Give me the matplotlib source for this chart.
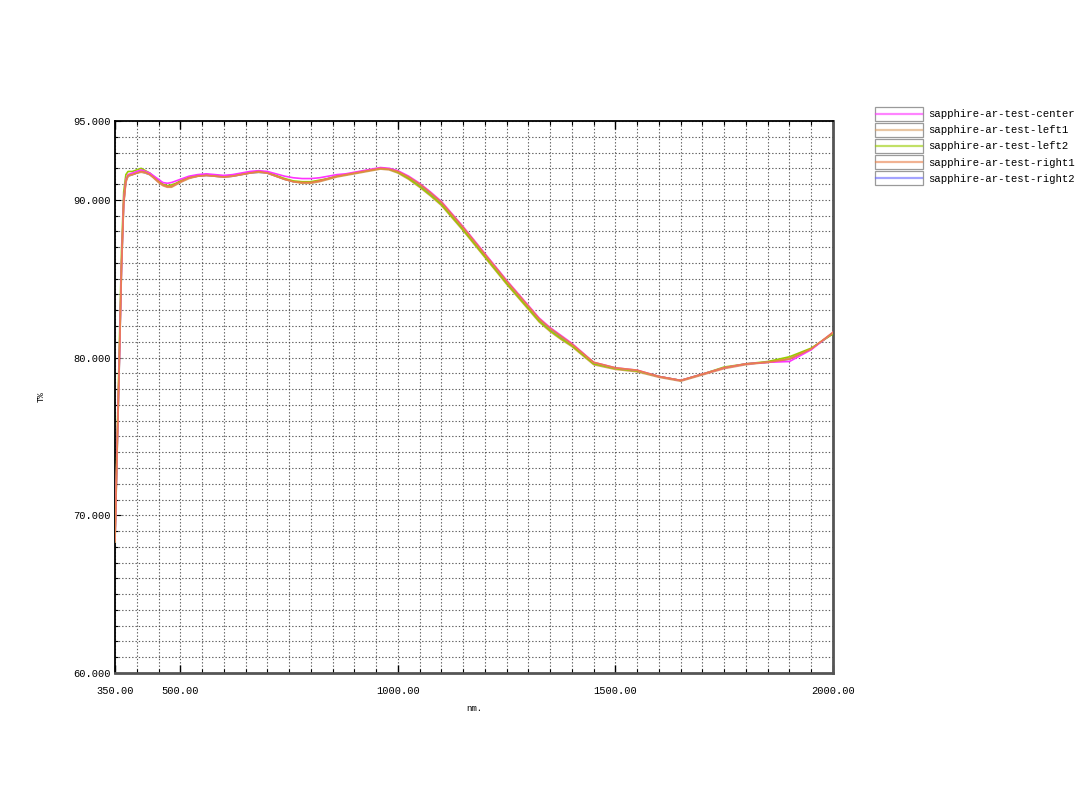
import matplotlib
matplotlib.use("Agg")
import matplotlib.pyplot as plt
from matplotlib.legend_handler import HandlerBase
from matplotlib.patches import Rectangle
from matplotlib.lines import Line2D
from matplotlib.ticker import FixedLocator, MultipleLocator

plt.rcParams['font.family'] = ['Liberation Mono', 'DejaVu Sans Mono']

# wavelength (nm)
wl = [350, 355, 360, 365, 370, 375, 380, 390, 400, 410, 420, 430, 440, 450,
      460, 470, 480, 490, 500, 520, 540, 560, 580, 600, 620, 640, 660, 680,
      700, 720, 740, 760, 780, 800, 820, 840, 860, 880, 900, 920, 940, 960,
      980, 1000, 1025, 1050, 1075, 1100, 1150, 1200, 1250, 1300, 1325, 1350,
      1375, 1400, 1450, 1500, 1550, 1600, 1650, 1700, 1750, 1800, 1850, 1900,
      1950, 2000]

# transmittance T% per sample
center = [68.5, 74.5, 80.0, 86.0, 90.0, 91.3, 91.6, 91.7, 91.8, 91.9, 91.8, 91.7,
          91.5, 91.3, 91.1, 91.05, 91.1, 91.2, 91.3, 91.5, 91.6, 91.65, 91.6,
          91.55, 91.6, 91.7, 91.8, 91.85, 91.8, 91.65, 91.5, 91.4, 91.35, 91.35,
          91.4, 91.5, 91.6, 91.65, 91.75, 91.85, 91.95, 92.05, 92.0, 91.85, 91.5,
          91.05, 90.5, 89.9, 88.3, 86.6, 84.9, 83.3, 82.5, 81.9, 81.4, 80.9,
          79.7, 79.35, 79.2, 78.8, 78.55, 78.95, 79.35, 79.6, 79.7, 79.75, 80.5,
          81.6]
left1 = [68.3, 74.0, 79.6, 85.6, 89.7, 91.1, 91.5, 91.6, 91.7, 91.75, 91.7, 91.6,
         91.35, 91.1, 90.9, 90.8, 90.8, 90.95, 91.1, 91.35, 91.5, 91.55, 91.5,
         91.45, 91.5, 91.6, 91.7, 91.75, 91.7, 91.5, 91.3, 91.15, 91.05, 91.05,
         91.15, 91.3, 91.45, 91.55, 91.65, 91.75, 91.85, 91.95, 91.9, 91.7, 91.3,
         90.8, 90.25, 89.65, 88.05, 86.35, 84.65, 83.05, 82.25, 81.65, 81.15,
         80.7, 79.55, 79.25, 79.1, 78.75, 78.5, 78.9, 79.3, 79.55, 79.7, 79.95,
         80.55, 81.55]
left2 = [68.6, 75.0, 80.8, 86.8, 90.5, 91.6, 91.8, 91.8, 91.9, 92.0, 91.85, 91.7,
         91.45, 91.2, 91.0, 90.9, 90.95, 91.05, 91.2, 91.45, 91.55, 91.6, 91.55,
         91.5, 91.55, 91.65, 91.75, 91.8, 91.75, 91.55, 91.35, 91.2, 91.15, 91.15,
         91.25, 91.35, 91.5, 91.6, 91.7, 91.8, 91.9, 92.0, 91.95, 91.75, 91.35,
         90.85, 90.3, 89.7, 88.1, 86.4, 84.7, 83.1, 82.3, 81.7, 81.2, 80.75,
         79.6, 79.3, 79.15, 78.8, 78.55, 78.95, 79.4, 79.6, 79.75, 80.05, 80.6,
         81.5]
right1 = [68.4, 74.3, 79.8, 85.8, 89.8, 91.2, 91.55, 91.6, 91.7, 91.8, 91.75, 91.6,
          91.4, 91.15, 90.95, 90.85, 90.85, 91.0, 91.15, 91.4, 91.5, 91.55, 91.5,
          91.45, 91.5, 91.6, 91.7, 91.8, 91.7, 91.5, 91.3, 91.15, 91.1, 91.1,
          91.2, 91.35, 91.5, 91.6, 91.7, 91.8, 91.9, 92.0, 91.95, 91.8, 91.45,
          91.0, 90.45, 89.85, 88.25, 86.55, 84.85, 83.25, 82.45, 81.85, 81.35,
          80.85, 79.7, 79.35, 79.2, 78.8, 78.55, 78.95, 79.35, 79.6, 79.7, 79.9,
          80.55, 81.6]
right2 = [68.4, 74.2, 79.7, 85.7, 89.8, 91.2, 91.5, 91.6, 91.7, 91.8, 91.7, 91.6,
          91.4, 91.15, 90.95, 90.85, 90.85, 91.0, 91.15, 91.4, 91.5, 91.55, 91.5,
          91.45, 91.5, 91.6, 91.7, 91.75, 91.7, 91.5, 91.3, 91.15, 91.1, 91.1,
          91.2, 91.35, 91.5, 91.6, 91.7, 91.8, 91.9, 92.0, 91.95, 91.75, 91.4,
          90.95, 90.4, 89.8, 88.2, 86.5, 84.8, 83.2, 82.4, 81.8, 81.3, 80.8,
          79.65, 79.3, 79.15, 78.8, 78.55, 78.95, 79.35, 79.6, 79.7, 79.9, 80.55,
          81.55]

names = ['sapphire-ar-test-center', 'sapphire-ar-test-left1',
         'sapphire-ar-test-left2', 'sapphire-ar-test-right1',
         'sapphire-ar-test-right2']
series = [center, left1, left2, right1, right2]
colors = ['#ff33ff', '#d9a066', '#99cc00', '#e8804a', '#6666ff']
zorders = [5, 3, 4, 6, 2]

x_labels = ['350.00', '500.00', '1000.00', '1500.00', '2000.00']
x_label_pos = [350, 500, 1000, 1500, 2000]
y_labels = ['60.000', '70.000', '80.000', '90.000', '95.000']
y_label_pos = [60, 70, 80, 90, 95]


class BoxLineHandler(HandlerBase):
    # legend key: grey box with the series line through the middle
    def create_artists(self, legend, orig_handle, xdescent, ydescent,
                       width, height, fontsize, trans):
        box = Rectangle((-xdescent, -ydescent - 1), width, height + 2,
                        facecolor='white', edgecolor='#9a9a9a', lw=0.9,
                        transform=trans)
        ln = Line2D([-xdescent + 1, -xdescent + width - 1],
                    [height / 2 - ydescent] * 2,
                    color=orig_handle.get_color(), lw=1.6, alpha=0.6,
                    transform=trans)
        return [box, ln]


fig = plt.figure(figsize=(10.8, 8.11), dpi=100)
ax = fig.add_axes([115 / 1080, 1 - 673 / 811, 718 / 1080, 552 / 811])

handles = []
for name, vals, c, z in zip(names, series, colors, zorders):
    h, = ax.plot(wl, vals, color=c, lw=1.2, zorder=z, label=name)
    handles.append(h)

ax.set_xlim(350, 2000)
ax.set_ylim(60, 95)

ax.xaxis.set_major_locator(FixedLocator(x_label_pos))
ax.set_xticklabels(x_labels)
ax.xaxis.set_minor_locator(MultipleLocator(50))
ax.yaxis.set_major_locator(FixedLocator(y_label_pos))
ax.set_yticklabels(y_labels)
ax.yaxis.set_minor_locator(MultipleLocator(1))

ax.tick_params(which='both', direction='in', top=True, right=False,
               labelsize=7.5, colors='black')
ax.tick_params(axis='x', which='major', length=6, width=1.0, pad=9)
ax.tick_params(axis='x', which='minor', length=3, width=0.8)
ax.tick_params(axis='y', which='major', length=4, width=0.8, pad=3)
ax.tick_params(axis='y', which='minor', length=2, width=0.8)

ax.grid(True, which='both', color='#333333', linestyle=(0, (1.2, 1.8)),
        linewidth=0.8, alpha=0.8)
ax.set_axisbelow(True)

for side in ['left', 'top']:
    ax.spines[side].set_linewidth(1.3)
    ax.spines[side].set_color('black')
for side in ['right', 'bottom']:
    ax.spines[side].set_linewidth(2.0)
    ax.spines[side].set_color('#555555')

ax.set_xlabel('nm.', fontsize=6.5, labelpad=6)
ax.set_ylabel('T%', fontsize=6.5, labelpad=20)

fig.legend(handles=handles, labels=names,
           handler_map={Line2D: BoxLineHandler()},
           loc='upper left', bbox_to_anchor=(875 / 1080, 1 - 108 / 811),
           frameon=False, fontsize=7.7, handlelength=4.5, handleheight=1.25,
           labelspacing=0.45, handletextpad=0.45, borderpad=0,
           borderaxespad=0)

fig.savefig('out.png', dpi=100)
